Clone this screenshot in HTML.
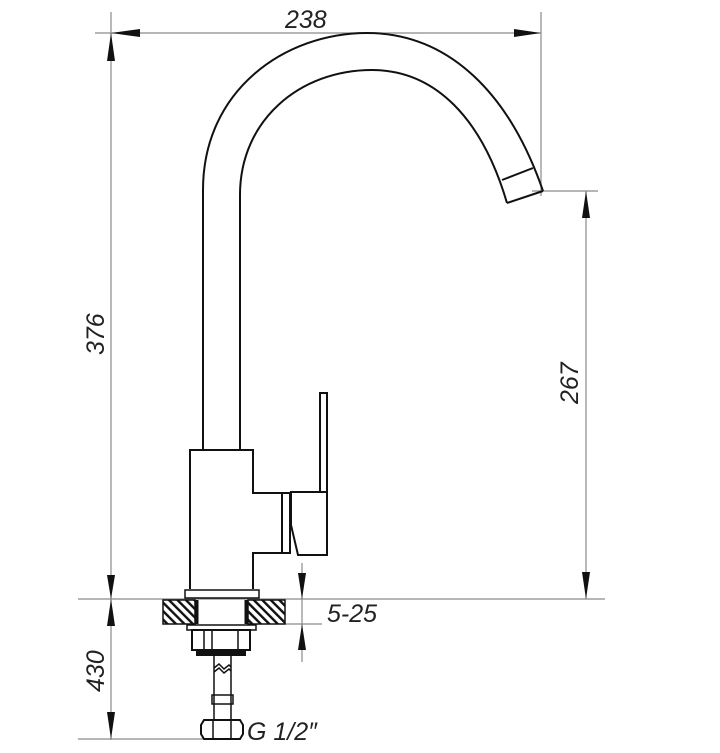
<!DOCTYPE html>
<html><head><style>
html,body{margin:0;padding:0;background:#fff;}
svg{display:block;}
text{font-family:"Liberation Sans",sans-serif;font-style:italic;fill:#222;}
</style></head><body>
<svg width="720" height="753" viewBox="0 0 720 753" xmlns="http://www.w3.org/2000/svg">
<defs>
<pattern id="h" width="6" height="6" patternUnits="userSpaceOnUse" patternTransform="rotate(-45)">
<rect width="6" height="6" fill="#fff"/><rect width="2.4" height="6" fill="#111"/>
</pattern>
</defs>
<g stroke="#8a8a8a" stroke-width="1.2" fill="none">
<line x1="111" y1="12" x2="111" y2="740"/>
<line x1="95" y1="33" x2="541" y2="33"/>
<line x1="541" y1="12" x2="541" y2="196"/>
<line x1="532" y1="191" x2="598" y2="191"/>
<line x1="586" y1="191" x2="586" y2="599"/>
<line x1="78" y1="599" x2="605" y2="599"/>
<line x1="78" y1="739" x2="215" y2="739"/>
<line x1="302" y1="563" x2="302" y2="662"/>
<line x1="285" y1="624" x2="322" y2="624"/>
</g>
<g fill="#111">
<polygon points="111,33 140,29 140,37"/>
<polygon points="541,33 514,29 514,37"/>
<polygon points="111,33 107,61 115,61"/>
<polygon points="111,599 107,575 115,575"/>
<polygon points="111,599 107,626 115,626"/>
<polygon points="111,739 107,712 115,712"/>
<polygon points="586,191 582,218 590,218"/>
<polygon points="586,599 582,572 590,572"/>
<polygon points="302,599 298,573 306,573"/>
<polygon points="302,624 298,650 306,650"/>
</g>
<g stroke="#111" stroke-width="2" fill="none" stroke-linejoin="miter">
<path d="M203,450 L203,190 C203,90 285,33 367,33 C450,33 510,95 543,191"/>
<path d="M240,450 L240,195 C240,120 300,70 372,70 C435,70 482,118 507,203"/>
<line x1="543" y1="191" x2="507" y2="203"/>
<line x1="533" y1="168" x2="502" y2="180"/>
<path d="M190,589 L190,450 L253,450 L253,493 L282,493 L282,553 L253,553 L253,589"/>
<rect x="282" y="493" width="8" height="60"/>
<path d="M290,492 L327,492 L327,555 L298,555 L291,525 L291,492"/>
<path d="M320,492 L320,393 L327,393 L327,492"/>
<rect x="185" y="590" width="74" height="8" stroke-width="1.5"/>
</g>
<rect x="163" y="600" width="32" height="24" fill="url(#h)" stroke="#111" stroke-width="1.5"/>
<rect x="248" y="600" width="37" height="24" fill="url(#h)" stroke="#111" stroke-width="1.5"/>
<g stroke="#111" fill="none">
<line x1="197" y1="600" x2="197" y2="624" stroke-width="3"/>
<line x1="246" y1="600" x2="246" y2="624" stroke-width="3"/>
<rect x="187" y="625" width="69" height="5" stroke-width="1.5"/>
<rect x="192" y="630" width="58" height="20" stroke-width="2"/>
<line x1="204" y1="630" x2="204" y2="650" stroke-width="1.5"/>
<line x1="212" y1="630" x2="212" y2="650" stroke-width="1.5"/>
<line x1="238" y1="630" x2="238" y2="650" stroke-width="1.5"/>
<rect x="197" y="650" width="48" height="5" stroke-width="2" fill="#111"/>
<line x1="214" y1="655" x2="214" y2="720" stroke-width="1.5"/>
<line x1="231" y1="655" x2="231" y2="720" stroke-width="1.5"/>
<path d="M214,668 L219,664 L224,669 L229,665 L231,667" stroke-width="1.5"/>
<path d="M214,672 L219,668 L224,673 L229,669 L231,671" stroke-width="1.5"/>
<rect x="212" y="695" width="21" height="9" stroke-width="1.5"/>
<path d="M204,720 L240,720 L243,725 L243,734 L240,739 L204,739 L201,734 L201,725 Z" stroke-width="2"/>
<line x1="213" y1="720" x2="213" y2="739" stroke-width="1.5"/>
<line x1="231" y1="720" x2="231" y2="739" stroke-width="1.5"/>
</g>
<text x="285" y="28" font-size="25">238</text>
<text x="327" y="622" font-size="25">5-25</text>
<text x="247" y="740" font-size="25">G 1/2″</text>
<text transform="translate(104,355) rotate(-90)" font-size="25">376</text>
<text transform="translate(104,692) rotate(-90)" font-size="25">430</text>
<text transform="translate(578,404) rotate(-90)" font-size="25">267</text>
</svg>
</body></html>
